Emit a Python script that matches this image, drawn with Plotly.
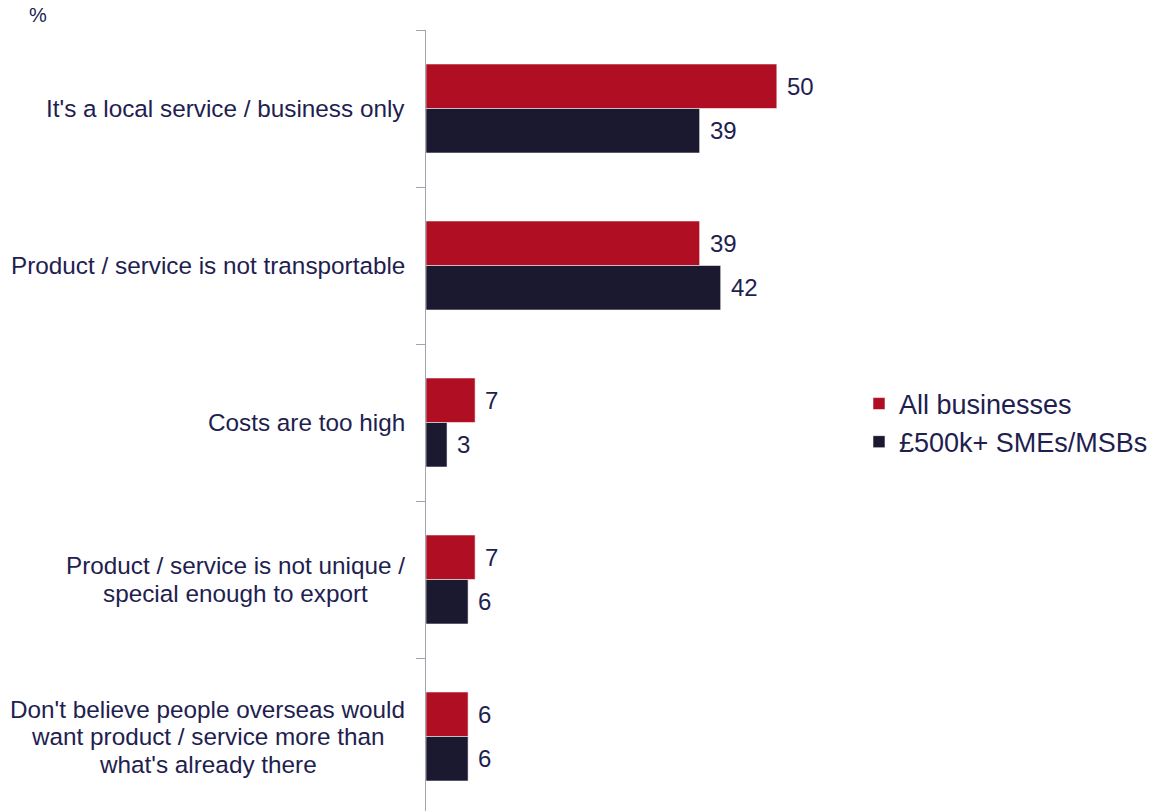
import plotly.graph_objects as go

# ---- data -------------------------------------------------------------
categories = [
    "It's a local service / business only",
    "Product / service is not transportable",
    "Costs are too high",
    "Product / service is not unique /\nspecial enough to export",
    "Don't believe people overseas would\nwant product / service more than\nwhat's already there",
]
series_names = ["All businesses", "£500k+ SMEs/MSBs"]
all_businesses = [50, 39, 7, 7, 6]
sme_500k = [39, 42, 3, 6, 6]
unit_label = "%"

# ---- styling ----------------------------------------------------------
FONT = "Liberation Sans, Arial, sans-serif"
TEXT = "#221E50"
RED = "#B00E23"
NAVY = "#1B1930"
AXIS = "#A3A3AD"
LABEL_SIZE = 24.3
VALUE_SIZE = 24
LEGEND_SIZE = 27
LINE_STEP = 27.5

W, H = 1157, 811
M_L, M_R, M_T, M_B = 426, 310, 30, 0
X_MAX = 60
BARGAP = 0.433

# Arial / Liberation Sans advance widths (per 1000 em) for label centring
ADV = {
    " ": 278, "'": 191, "/": 278,
    "a": 556, "b": 556, "c": 500, "d": 556, "e": 556, "f": 278, "g": 556,
    "h": 556, "i": 222, "j": 222, "k": 500, "l": 222, "m": 833, "n": 556,
    "o": 556, "p": 556, "q": 556, "r": 333, "s": 500, "t": 278, "u": 556,
    "v": 500, "w": 722, "x": 500, "y": 500, "z": 500,
    "C": 722, "D": 722, "I": 278, "P": 667,
}


def text_width(s, size):
    return sum(ADV.get(ch, 556) for ch in s) * size / 1000.0


n = len(categories)
ypos = list(range(n))

fig = go.Figure()
for name, vals, color in [(series_names[0], all_businesses, RED),
                          (series_names[1], sme_500k, NAVY)]:
    fig.add_trace(go.Bar(
        y=ypos, x=vals, name=name, orientation="h",
        marker=dict(color=color, line=dict(color="rgba(255,255,255,0.55)", width=1)),
        hoverinfo="skip",
        legendgroup=name,
    ))

annotations = []

# value labels just past the end of each bar
bar_w = (1 - BARGAP) / 2
for k, vals in enumerate([all_businesses, sme_500k]):
    off = -bar_w / 2 if k == 0 else bar_w / 2
    for i, v in enumerate(vals):
        annotations.append(dict(
            x=v, y=i + off, xref="x", yref="y", text=str(v), showarrow=False,
            xanchor="left", yanchor="middle", xshift=8,
            font=dict(family=FONT, size=VALUE_SIZE, color=TEXT),
        ))

# category labels: centred lines, block right-aligned against the axis
for i, cat in enumerate(categories):
    lines = cat.split("\n")
    maxw = max(text_width(s, LABEL_SIZE) for s in lines)
    for j, line in enumerate(lines):
        annotations.append(dict(
            x=0, y=i, xref="paper", yref="y", text=line, showarrow=False,
            xanchor="center", yanchor="middle",
            xshift=-21 - maxw / 2,
            yshift=((len(lines) - 1) / 2 - j) * LINE_STEP,
            font=dict(family=FONT, size=LABEL_SIZE, color=TEXT),
        ))

annotations.append(dict(
    x=0, y=1, xref="paper", yref="paper", text=unit_label, showarrow=False,
    xanchor="left", yanchor="middle", xshift=-399, yshift=15,
    font=dict(family=FONT, size=20, color=TEXT),
))

plot_h = H - M_T - M_B
band = 157.0
y_bottom = -0.5 + plot_h / band
boundaries = [i - 0.5 for i in range(n)]

plot_w = W - M_L - M_R
fig.update_layout(
    width=W, height=H,
    margin=dict(l=M_L, r=M_R, t=M_T, b=M_B, pad=0),
    paper_bgcolor="white", plot_bgcolor="white",
    barmode="group", bargap=BARGAP, bargroupgap=0,
    font=dict(family=FONT, color=TEXT),
    xaxis=dict(range=[0, X_MAX], visible=False, fixedrange=True),
    yaxis=dict(
        range=[y_bottom, -0.5], tickmode="array", tickvals=boundaries,
        showticklabels=False, ticks="outside", ticklen=9, tickcolor=AXIS,
        tickwidth=1, showline=True, linecolor=AXIS, linewidth=1,
        showgrid=False, zeroline=False, fixedrange=True,
    ),
    showlegend=True,
    legend=dict(
        x=(859 - M_L) / plot_w, xanchor="left",
        y=1 - (423 - M_T) / plot_h, yanchor="middle",
        traceorder="normal", tracegroupgap=6,
        font=dict(family=FONT, size=LEGEND_SIZE, color=TEXT),
        bgcolor="rgba(0,0,0,0)", borderwidth=0,
    ),
    annotations=annotations,
)

fig.write_html("out.html")
